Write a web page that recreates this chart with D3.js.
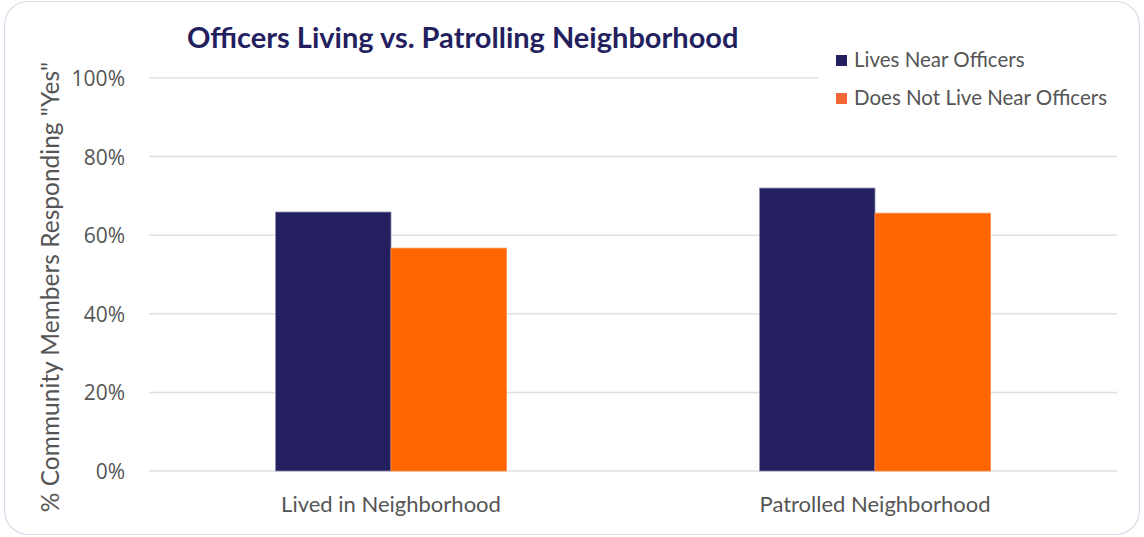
<!DOCTYPE html>
<html>
<head>
<meta charset="utf-8">
<script src="https://cdn.jsdelivr.net/npm/d3@7"></script>
<style>
  html, body { margin: 0; padding: 0; background: #fff; }
  svg text { font-family: Lato, "Open Sans", sans-serif; }
</style>
</head>
<body>
<svg id="chart" width="1144" height="537"></svg>
<script>
// data
const categories = ["Lived in Neighborhood", "Patrolled Neighborhood"];
const seriesNames = ["Lives Near Officers", "Does Not Live Near Officers"];
const livesNear = [0.659, 0.72];
const notNear = [0.567, 0.656];
const yTicks = [0, 0.2, 0.4, 0.6, 0.8, 1.0];

const colors = ["#241f5e", "#ff6600"];
const svg = d3.select("#chart");
const margin = { top: 78, right: 27, bottom: 66, left: 149 };
const W = 1144, H = 537;
const width = W - margin.left - margin.right,
      height = H - margin.top - margin.bottom;

// card border
svg.append("rect")
    .attr("x", 4.5).attr("y", 1.5)
    .attr("width", 1135).attr("height", 533)
    .attr("rx", 24)
    .attr("fill", "#fff")
    .attr("stroke", "#dcdaea")
    .attr("stroke-width", 1.2);

const g = svg.append("g")
    .attr("transform", "translate(" + margin.left + "," + margin.top + ")");

const x0 = d3.scaleBand().domain(categories).range([0, width])
    .paddingInner(0.523).paddingOuter(0.2615);
const x1 = d3.scaleBand().domain(seriesNames).range([0, x0.bandwidth()]);
const y = d3.scaleLinear().domain([0, 1]).range([height, 0]);

// gridlines
g.selectAll("line.grid")
    .data(yTicks)
    .enter()
    .append("line")
    .attr("class", "grid")
    .attr("x1", 0).attr("x2", width)
    .attr("y1", d => y(d)).attr("y2", d => y(d))
    .attr("stroke", "#e0e0e0")
    .attr("stroke-width", 1.5);

// y axis labels
const yAxis = d3.axisLeft(y).tickValues(yTicks).tickFormat(d3.format(".0%")).tickSize(0).tickPadding(24);
g.append("g").call(yAxis)
    .attr("font-family", null).attr("font-size", null)
    .call(a => a.select(".domain").remove())
    .selectAll("text")
    .attr("dy", "0.36em")
    .style("font-size", "21px")
    .style("font-family", "'Open Sans', sans-serif")
    .attr("fill", "#555");

// bars
const rows = categories.map((c, i) => ({ cat: c, vals: [livesNear[i], notNear[i]] }));
const grp = g.selectAll("g.cat")
    .data(rows)
    .enter()
    .append("g")
    .attr("class", "cat")
    .attr("transform", d => "translate(" + x0(d.cat) + ",0)");

grp.selectAll("rect")
    .data(d => d.vals.map((v, j) => ({ name: seriesNames[j], v, j })))
    .enter()
    .append("rect")
    .attr("x", d => x1(d.name))
    .attr("y", d => y(d.v))
    .attr("width", x1.bandwidth())
    .attr("height", d => height - y(d.v))
    .attr("fill", d => colors[d.j])
    .attr("stroke", d => d.j === 0 ? "#8f8cb5" : "#ff8a40")
    .attr("stroke-width", 0.8);

// x axis labels
const xAxis = d3.axisBottom(x0).tickSize(0).tickPadding(25);
g.append("g")
    .attr("transform", "translate(0," + height + ")")
    .call(xAxis)
    .call(a => a.select(".domain").remove())
    .selectAll("text")
    .attr("font-size", 22)
    .attr("fill", "#555")
    .style("font-family", "Lato, sans-serif");

// title
svg.append("text")
    .attr("x", 187).attr("y", 48)
    .attr("font-size", 29)
    .attr("font-weight", "bold")
    .attr("fill", "#241f5e")
    .text("Officers Living vs. Patrolling Neighborhood");

// y axis title
svg.append("text")
    .attr("transform", "translate(59,287) rotate(-90)")
    .attr("text-anchor", "middle")
    .attr("font-size", 24.5)
    .attr("fill", "#555")
    .text("% Community Members Responding \"Yes\"");

// legend
const leg = svg.append("g").attr("transform", "translate(818,44)");
leg.append("rect")
    .attr("width", 300).attr("height", 70)
    .attr("fill", "#fff");
const li = leg.selectAll("g.li")
    .data(seriesNames)
    .enter()
    .append("g")
    .attr("class", "li")
    .attr("transform", (d, i) => "translate(18," + (11 + i * 38) + ")");
li.append("rect")
    .attr("width", 11).attr("height", 11)
    .attr("fill", (d, i) => i === 0 ? colors[0] : "#f26535");
li.append("text")
    .attr("x", 18).attr("y", 12)
    .attr("font-size", 20.5)
    .attr("fill", "#555")
    .text(d => d);
</script>
</body>
</html>
